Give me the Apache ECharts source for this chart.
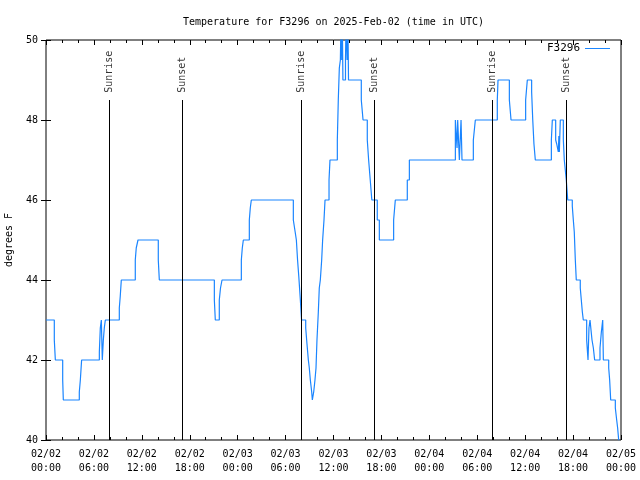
<!DOCTYPE html>
<html><head><meta charset="utf-8">
<script src="https://cdn.jsdelivr.net/npm/echarts@6/dist/echarts.min.js"></script>
<style>html,body{margin:0;padding:0;background:#fff}#c{width:640px;height:480px}</style>
</head><body><div id="c"></div>
<script>
// hours since 2025-02-02 00:00 UTC, temperature (F); step data
const hours = [0,1.04,1.17,2.09,2.17,4.17,4.3,4.46,6.68,6.8,6.93,7.05,7.18,7.3,7.43,9.18,9.3,9.43,11.18,11.3,11.52,14.06,14.19,21.08,21.2,21.7,21.85,22.04,24.46,24.58,24.71,25.46,25.58,25.71,30.97,31.2,31.35,31.5,31.65,31.85,32.0,32.52,32.68,32.85,32.97,33.1,33.27,33.35,33.52,33.68,33.81,33.93,34.1,34.22,34.35,34.52,34.64,34.81,34.94,35.44,35.56,36.48,36.6,36.73,36.86,36.94,37.03,37.1,37.18,37.5,37.58,37.7,37.8,37.88,39.48,39.7,40.23,40.4,40.6,40.8,41.48,41.74,43.53,43.74,45.24,45.5,51.26,51.47,51.55,51.76,51.97,52.09,53.51,53.76,56.51,56.6,58.02,58.23,60.06,60.27,60.81,60.95,61.1,61.27,63.28,63.4,63.82,63.95,64.15,64.22,64.28,64.4,64.78,64.9,65.15,65.33,65.9,66.03,66.15,66.28,66.4,66.9,67.03,67.16,67.28,67.7,67.87,67.99,68.12,68.37,68.54,68.7,69.37,69.54,69.71,69.79,70.46,70.58,70.71,71.29,71.46,71.58,71.71,71.8];
const temps = [43,42.5,42,41.5,41,41.2,41.5,42,42.2,42.8,43,42,42.5,42.8,43,43.3,43.6,44,44.5,44.8,45,44.5,44,43.5,43,43.5,43.8,44,44.5,44.8,45,45.5,45.8,46,45.5,45.2,45,44.5,44.1,43.5,43,42.8,42.4,42,41.8,41.5,41.2,41,41.2,41.5,41.8,42.5,43.2,43.8,44,44.5,45,45.5,46,46.5,47,47.5,48.5,49.3,49.5,50.5,49.5,50.5,49,49.5,50.5,49.5,50.5,49,48.5,48,47.5,47,46.5,46,45.5,45,45.5,46,46.5,47,48,47.3,48,47,48,47,47.5,48,48.5,49,48.5,48,48.5,49,48.7,48,47.4,47,47.5,48,47.5,47.4,47.2,47.6,47.2,48,47.5,47,46.5,46,45.85,45.5,45.2,44.5,44,43.8,43.5,43.2,43,42.5,42,42.8,43,42.5,42.3,42,42.3,42.7,43,42,41.8,41.5,41,40.8,40.5,40.3,40,40];
const sunrise = [7.92, 31.93, 55.89];
const sunset = [17.07, 41.1, 65.2];
const xTickLabels = ['02/02\n00:00','02/02\n06:00','02/02\n12:00','02/02\n18:00','02/03\n00:00','02/03\n06:00','02/03\n12:00','02/03\n18:00','02/04\n00:00','02/04\n06:00','02/04\n12:00','02/04\n18:00','02/05\n00:00'];
const yTicks = [40,42,44,46,48,50];
const titleText = 'Temperature for F3296 on 2025-Feb-02 (time in UTC)';
const seriesName = 'F3296';

const FONT = 'DejaVu Sans Mono';
const BLUE = '#1a85ff';
const lineTop = 48.5, labelY = 48.68;
const series = [{
  name: seriesName, type: 'line', step: 'end', symbol: 'none', clip: true,
  data: hours.map((h, i) => [h, temps[i]]),
  lineStyle: {color: BLUE, width: 1.2}, itemStyle: {color: BLUE}, z: 3
}];
function sunSeries(times, text) {
  return {
    type: 'scatter', symbolSize: 0, silent: true, xAxisIndex: 0, yAxisIndex: 0,
    data: times.map(t => [t, labelY]),
    label: {show: true, formatter: text, rotate: 90, position: 'inside', align: 'left', verticalAlign: 'middle',
            fontFamily: FONT, fontSize: 10, color: '#000'},
    markLine: {silent: true, symbol: 'none', label: {show: false},
      lineStyle: {color: '#000', width: 1, type: 'solid'},
      data: times.map(t => [{coord: [t, 40]}, {coord: [t, lineTop]}])}
  };
}
series.push(sunSeries(sunrise, 'Sunrise'));
series.push(sunSeries(sunset, 'Sunset'));

const chart = echarts.init(document.getElementById('c'), null, {renderer: 'canvas'});
const axCommon = {axisLine: {show: false}, splitLine: {show: false}};
chart.setOption({
  animation: false,
  backgroundColor: '#fff',
  title: {text: titleText, left: 178, top: 12,
    textStyle: {fontFamily: FONT, fontSize: 10, fontWeight: 'normal', color: '#000'}},
  legend: {data: [{name: seriesName}], right: 30, top: 43, padding: 0, align: 'right', icon: 'rect', itemWidth: 25, itemHeight: 1,
    itemGap: 5, textStyle: {fontFamily: FONT, fontSize: 11, color: '#000'}},
  grid: {left: 46, right: 19, top: 40, bottom: 40, containLabel: false, outerBoundsMode: 'none',
    show: true, borderColor: '#000', borderWidth: 1, backgroundColor: 'transparent'},
  xAxis: [{
    type: 'value', min: 0, max: 72, interval: 6, position: 'bottom', ...axCommon,
    axisTick: {show: true, inside: true, length: 5, lineStyle: {color: '#000'}},
    minorTick: {show: true, splitNumber: 3, length: 3, lineStyle: {color: '#000'}},
    axisLabel: {formatter: v => xTickLabels[Math.round(v / 6)], fontFamily: FONT, fontSize: 10, color: '#000', lineHeight: 14, margin: 7}
  }, {
    type: 'value', min: 0, max: 72, interval: 6, position: 'top', ...axCommon,
    axisTick: {show: true, inside: true, length: 5, lineStyle: {color: '#000'}},
    minorTick: {show: true, splitNumber: 3, length: 3, lineStyle: {color: '#000'}},
    axisLabel: {show: false}
  }],
  yAxis: [{
    type: 'value', min: 40, max: 50, interval: 2, position: 'left', ...axCommon,
    name: 'degrees F', nameLocation: 'middle', nameGap: 32, nameRotate: 90,
    nameTextStyle: {fontFamily: FONT, fontSize: 10, color: '#000'},
    axisTick: {show: true, inside: true, length: 5, lineStyle: {color: '#000'}},
    axisLabel: {formatter: v => yTicks.includes(v) ? String(v) : '', fontFamily: FONT, fontSize: 10, color: '#000', margin: 8}
  }, {
    type: 'value', min: 40, max: 50, interval: 2, position: 'right', ...axCommon,
    axisTick: {show: true, inside: true, length: 5, lineStyle: {color: '#000'}},
    axisLabel: {show: false}
  }],
  series: series
});
</script></body></html>
